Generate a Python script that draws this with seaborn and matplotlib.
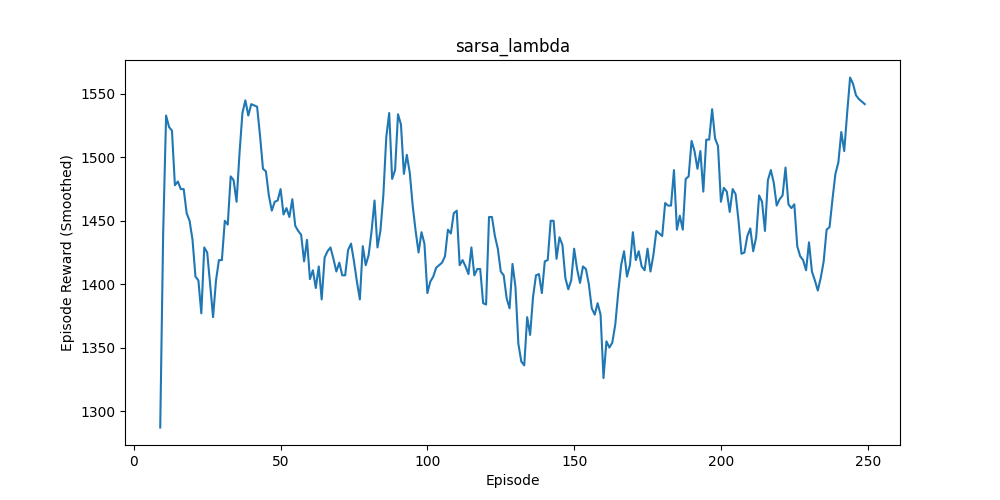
import numpy as np
import pandas as pd
import matplotlib
matplotlib.use("Agg")
import matplotlib.pyplot as plt
import seaborn as sns

# episodios (media movel de 10, por isso comeca no 9)
episodes = list(range(9, 250))

rewards = [
    1287, 1440, 1533, 1524, 1521, 1478, 1481, 1475, 1475, 1456,
    1450, 1435, 1406, 1403, 1377, 1429, 1425, 1400, 1374, 1403,
    1419, 1419, 1450, 1447, 1485, 1482, 1465, 1503, 1535, 1545,
    1533, 1542, 1541, 1540, 1517, 1491, 1489, 1470, 1458, 1465,
    1466, 1475, 1455, 1460, 1453, 1467, 1446, 1442, 1439, 1418,
    1435, 1404, 1411, 1397, 1414, 1388, 1421, 1426, 1429, 1420,
    1410, 1417, 1407, 1407, 1427, 1432, 1418, 1402, 1388, 1430,
    1415, 1423, 1442, 1466, 1429, 1442, 1470, 1516, 1535, 1483,
    1490, 1534, 1526, 1487, 1502, 1488, 1462, 1442, 1425, 1441,
    1432, 1393, 1402, 1406, 1413, 1415, 1417, 1422, 1443, 1440,
    1456, 1458, 1415, 1419, 1414, 1408, 1429, 1407, 1412, 1412,
    1385, 1384, 1453, 1453, 1438, 1428, 1410, 1407, 1389, 1381,
    1416, 1398, 1353, 1339, 1336, 1374, 1360, 1390, 1407, 1408,
    1393, 1418, 1419, 1450, 1450, 1420, 1437, 1431, 1405, 1396,
    1403, 1428, 1412, 1401, 1414, 1412, 1400, 1381, 1376, 1385,
    1376, 1326, 1355, 1350, 1354, 1368, 1393, 1415, 1426, 1406,
    1415, 1441, 1419, 1426, 1414, 1411, 1428, 1410, 1423, 1442,
    1440, 1438, 1464, 1462, 1462, 1490, 1443, 1454, 1443, 1483,
    1485, 1513, 1505, 1491, 1505, 1473, 1514, 1514, 1538, 1515,
    1509, 1465, 1476, 1473, 1457, 1475, 1471, 1450, 1424, 1425,
    1438, 1444, 1426, 1437, 1470, 1465, 1442, 1482, 1490, 1480,
    1462, 1467, 1470, 1492, 1463, 1460, 1463, 1430, 1422, 1419,
    1411, 1433, 1410, 1403, 1395, 1405, 1418, 1443, 1445, 1467,
    1487, 1496, 1520, 1505, 1535, 1563, 1558, 1549, 1546, 1544,
    1542,
]

df = pd.DataFrame({"Episode": episodes, "Reward": rewards})

plt.figure(figsize=(10, 5), dpi=100)
sns.lineplot(data=df, x="Episode", y="Reward", color="#1f77b4")
plt.title("sarsa_lambda")
plt.xlabel("Episode")
plt.ylabel("Episode Reward (Smoothed)")
plt.savefig("out.png")
